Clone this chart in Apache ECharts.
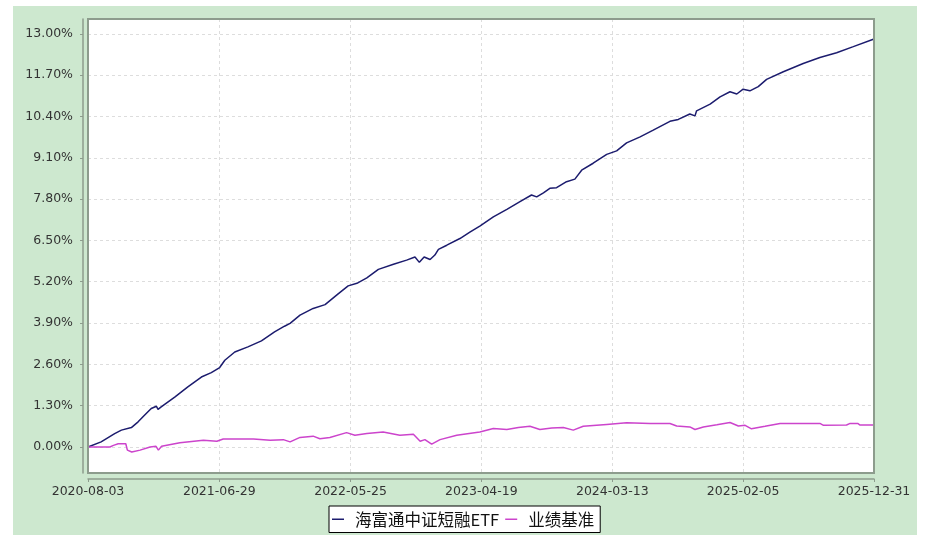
<!DOCTYPE html>
<html>
<head>
<meta charset="utf-8">
<script src="https://cdn.jsdelivr.net/npm/echarts@6/dist/echarts.min.js"></script>
<style>
html,body{margin:0;padding:0;background:#fff;}
#c{width:933px;height:546px;}
</style>
</head>
<body>
<div id="c"></div>
<script>
// Base date: x values are days since this date
const baseDate = '2020-08-03';
const tickDates = ['2020-08-03','2021-06-29','2022-05-25','2023-04-19','2024-03-13','2025-02-05','2025-12-31'];
const yTicks = [0, 1.3, 2.6, 3.9, 5.2, 6.5, 7.8, 9.1, 10.4, 11.7, 13.0];
const seriesNames = ['海富通中证短融ETF', '业绩基准'];

const fundDays = [0,33,67,84,109,126,142,159,172,176,184,218,251,285,310,331,344,369,402,436,469,494,508,533,566,596,625,654,676,701,730,768,801,822,833,845,860,872,881,902,935,960,985,1019,1053,1086,1115,1128,1145,1161,1178,1203,1224,1241,1270,1304,1329,1354,1388,1421,1463,1484,1513,1526,1530,1564,1589,1614,1631,1647,1664,1685,1706,1748,1798,1840,1882,1924,1976];
const fundValues = [0,0.16,0.42,0.53,0.61,0.79,1.0,1.21,1.28,1.18,1.26,1.57,1.89,2.2,2.34,2.5,2.73,2.99,3.15,3.34,3.62,3.8,3.89,4.15,4.36,4.48,4.78,5.07,5.15,5.32,5.59,5.75,5.88,5.98,5.81,5.98,5.90,6.04,6.22,6.35,6.56,6.76,6.95,7.24,7.48,7.72,7.93,7.87,8.0,8.14,8.16,8.35,8.43,8.71,8.93,9.21,9.32,9.57,9.76,9.97,10.25,10.31,10.48,10.42,10.58,10.79,11.02,11.18,11.11,11.26,11.21,11.34,11.57,11.81,12.07,12.26,12.41,12.6,12.84];

const benchDays = [0,55,64,76,95,99,110,131,156,171,177,185,231,290,324,340,416,458,491,508,533,566,583,608,650,671,701,742,784,818,835,847,864,885,927,985,1019,1053,1082,1111,1136,1166,1195,1220,1245,1304,1354,1413,1463,1480,1513,1526,1547,1581,1614,1635,1652,1668,1702,1740,1840,1849,1907,1916,1935,1941,1976];
const benchValues = [0,0,0.05,0.1,0.1,-0.1,-0.16,-0.1,0.0,0.02,-0.1,0.02,0.13,0.21,0.18,0.25,0.25,0.21,0.23,0.16,0.3,0.34,0.26,0.3,0.45,0.37,0.42,0.47,0.37,0.4,0.18,0.23,0.09,0.23,0.37,0.47,0.58,0.55,0.61,0.65,0.55,0.6,0.61,0.53,0.65,0.71,0.76,0.74,0.74,0.66,0.63,0.55,0.63,0.7,0.77,0.66,0.68,0.57,0.65,0.74,0.74,0.68,0.69,0.74,0.74,0.69,0.69];

const DAY = 86400000;
function toDay(s){ return Math.round((Date.parse(s+'T00:00:00Z') - Date.parse(baseDate+'T00:00:00Z'))/DAY); }
function toDate(d){ return new Date(Date.parse(baseDate+'T00:00:00Z') + d*DAY).toISOString().slice(0,10); }
const xTickDays = tickDates.map(toDay);
const zip = (a,b) => a.map((x,i)=>[x,b[i]]);

const G = { left: 88, top: 19, width: 786, height: 454 };
const labelFont = { fontFamily: 'DejaVu Sans', fontSize: 12.5, color: '#333' };
const chart = echarts.init(document.getElementById('c'), null, {renderer:'canvas'});
chart.setOption({
  backgroundColor: '#fff',
  animation: false,
  graphic: { elements: [
    { type:'rect', z:-100, silent:true, shape:{x:13,y:6,width:904,height:529}, style:{fill:'#cde8cf'} },
    { type:'rect', z:100, silent:true, shape:{x:G.left,y:G.top,width:G.width,height:G.height}, style:{fill:null, stroke:'#8d9c8d', lineWidth:2} }
  ] },
  grid: { left: G.left, top: G.top, width: G.width, height: G.height, show: true, backgroundColor: '#fff', borderWidth: 0, containLabel: false },
  xAxis: {
    type: 'value', min: 0, max: xTickDays[xTickDays.length-1], offset: 6,
    axisLine: { show: true, onZero: false, lineStyle: { color: '#8d9c8d', width: 1.5 } },
    axisTick: { show: true, length: 3, customValues: xTickDays, lineStyle: { color: '#8d9c8d' } },
    axisLabel: { customValues: xTickDays, margin: 6, ...labelFont, formatter: v => toDate(v) },
    splitLine: { show: true, lineStyle: { color: '#dddddd', type: [3,3], width: 1 } }
  },
  yAxis: {
    type: 'value', min: -0.82, max: 13.47, offset: 5,
    axisLine: { show: true, onZero: false, lineStyle: { color: '#8d9c8d', width: 1.5 } },
    axisTick: { show: true, length: 3, customValues: yTicks, lineStyle: { color: '#8d9c8d' } },
    axisLabel: { customValues: yTicks, margin: 10, ...labelFont, formatter: v => v.toFixed(2) + '%' },
    splitLine: { show: true, lineStyle: { color: '#dddddd', type: [3,3], width: 1 } }
  },
  legend: {
    left: 329, top: 506, orient: 'horizontal',
    backgroundColor: '#fff', borderColor: '#000', borderWidth: 1, borderRadius: 0,
    padding: [5, 6, 5, 3], itemGap: 6, itemWidth: 12, itemHeight: 1.5, icon: 'rect',
    textStyle: { fontFamily: 'Noto Sans CJK SC', fontSize: 16.5, color: '#111', padding: [0,0,0,6] },
    data: seriesNames
  },
  series: [
    { name: seriesNames[0], type: 'line', data: zip(fundDays, fundValues), showSymbol: false, symbol: 'none', lineStyle: { color: '#1c1c6e', width: 1.5 }, itemStyle: { color: '#1c1c6e' } },
    { name: seriesNames[1], type: 'line', data: zip(benchDays, benchValues), showSymbol: false, symbol: 'none', lineStyle: { color: '#cc44cc', width: 1.5 }, itemStyle: { color: '#cc44cc' } }
  ]
});
</script>
</body>
</html>
